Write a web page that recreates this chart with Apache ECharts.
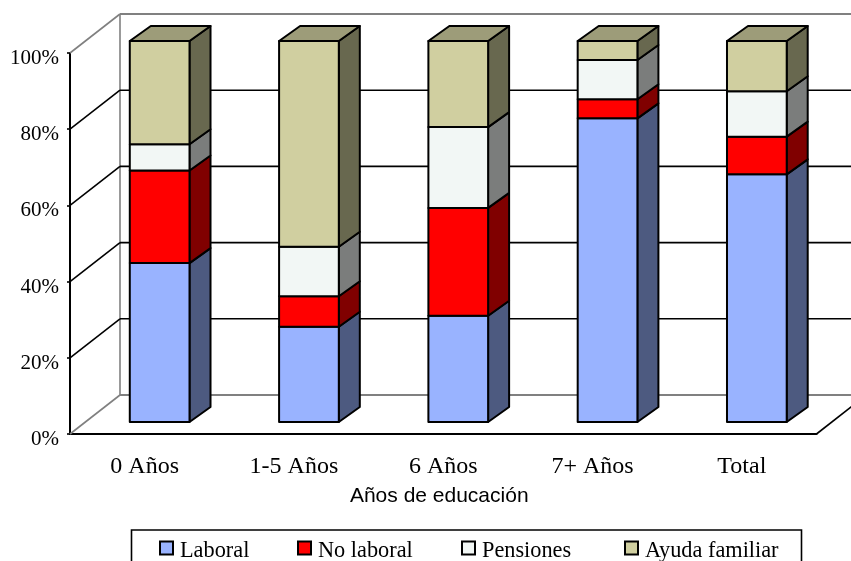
<!DOCTYPE html>
<html>
<head>
<meta charset="utf-8">
<style>html,body{margin:0;padding:0;background:#fff}#chart{width:851px;height:561px}</style>
<script src="https://cdn.jsdelivr.net/npm/echarts@6/dist/echarts.min.js"></script>
</head>
<body>
<div id="chart"></div>
<script>
// Composición del ingreso por años de educación (porcentajes apilados)
const categories = ['0 Años', '1-5 Años', '6 Años', '7+ Años', 'Total'];
const laboral   = [41.7, 25, 27.9, 79.7, 65];
const noLaboral = [24.3, 8, 28.3, 5, 9.9];
const pensiones = [6.9, 13, 21.2, 10.3, 11.9];
const ayuda     = [27.1, 54, 22.6, 5, 13.2];
const yTicks = [0, 20, 40, 60, 80, 100];
const serif = '"Liberation Serif", "Times New Roman", serif';

const stacks = [
  { name: 'Laboral', values: laboral, front: '#99B3FF', side: '#4D5A80' },
  { name: 'No laboral', values: noLaboral, front: '#FF0000', side: '#800000' },
  { name: 'Pensiones', values: pensiones, front: '#F2F7F5', side: '#7B7D7C' },
  { name: 'Ayuda familiar', values: ayuda, front: '#D0CFA0', side: '#68684F', top: '#9D9C79' }
];

// Proyección oblicua: fondo del gráfico y profundidad de cada columna
const WALL = { dx: 50, dy: -39 };
const BAR = { dx: 15, dy: -12, depthX: 21, depthY: -15, share: 0.4 };
const INK = { stroke: '#000', lineWidth: 2, lineJoin: 'round' };

function wallLine(p1, p2, color, width) {
  return {
    type: 'line',
    shape: { x1: p1[0], y1: p1[1], x2: p2[0], y2: p2[1] },
    style: { stroke: color, lineWidth: width, fill: null }
  };
}

function renderWall(params, api) {
  const sys = params.coordSys;
  const v = api.value(0);
  const y = api.coord([0, v])[1];
  const xLeft = sys.x, xRight = sys.x + sys.width;
  const edge = v === 0 || v === 100;
  const color = edge ? '#808080' : '#000';
  const children = [
    wallLine([xLeft, y], [xLeft + WALL.dx, y + WALL.dy], color, 1.6),
    wallLine([xLeft + WALL.dx, y + WALL.dy], [xRight + WALL.dx, y + WALL.dy], color, edge ? 2 : 1.6)
  ];
  if (v === 0) {
    const yTop = api.coord([0, 100])[1];
    children.push(wallLine([xLeft + WALL.dx, y + WALL.dy], [xLeft + WALL.dx, yTop + WALL.dy], '#808080', 1.6));
    children.push(wallLine([xRight, y], [xRight + WALL.dx, y + WALL.dy], '#000', 1.6));
  }
  return { type: 'group', children };
}

function renderSegment(stack) {
  return function (params, api) {
    const base = api.coord([api.value(0), api.value(1)]);
    const head = api.coord([api.value(0), api.value(2)]);
    const w = api.size([1, 0])[0] * BAR.share;
    const x0 = base[0] + BAR.dx - w / 2, x1 = x0 + w;
    const yb = base[1] + BAR.dy, yt = head[1] + BAR.dy;
    const dx = BAR.depthX, dy = BAR.depthY;
    const children = [
      { type: 'polygon', shape: { points: [[x1, yb], [x1 + dx, yb + dy], [x1 + dx, yt + dy], [x1, yt]] },
        style: Object.assign({ fill: stack.side }, INK) },
      { type: 'rect', shape: { x: x0, y: yt, width: w, height: yb - yt },
        style: Object.assign({ fill: stack.front }, INK) }
    ];
    if (stack.top) {
      children.push({ type: 'polygon',
        shape: { points: [[x0, yt], [x0 + dx, yt + dy], [x1 + dx, yt + dy], [x1, yt]] },
        style: Object.assign({ fill: stack.top }, INK) });
    }
    return { type: 'group', children };
  };
}

// Acumula los porcentajes para obtener el inicio y el fin de cada tramo
const running = categories.map(() => 0);
const barSeries = stacks.map(stack => ({
  type: 'custom',
  name: stack.name,
  coordinateSystem: 'cartesian2d',
  itemStyle: { color: stack.front, borderColor: '#000', borderWidth: 1.5 },
  encode: { x: 0, y: [1, 2] },
  z: 5,
  silent: true,
  renderItem: renderSegment(stack),
  data: stack.values.map((val, i) => {
    const start = running[i];
    running[i] += val;
    return [i, start, running[i]];
  })
}));

const legendLefts = [159, 297, 461, 624];
const legends = stacks.map((stack, i) => ({
  data: [stack.name],
  left: legendLefts[i],
  top: 540,
  padding: 0,
  itemWidth: 13,
  itemHeight: 13,
  selectedMode: false,
  icon: 'rect',
  formatter: '{t|{name}}',
  textStyle: {
    color: '#000',
    rich: { t: { fontFamily: serif, fontSize: 22.3, color: '#000', padding: [6, 0, 0, 2] } }
  }
}));

const chart = echarts.init(document.getElementById('chart'), null, { renderer: 'canvas' });
chart.setOption({
  animation: false,
  backgroundColor: '#fff',
  grid: { left: 70, right: 34.5, top: 53, bottom: 127, containLabel: false },
  legend: legends,
  xAxis: {
    type: 'category',
    data: categories,
    boundaryGap: true,
    axisLine: { lineStyle: { color: '#000', width: 2 } },
    axisTick: { alignWithLabel: false, length: 7, lineStyle: { color: '#000', width: 1.6 } },
    axisLabel: { color: '#000', fontFamily: serif, fontSize: 24, margin: 21 },
    name: 'Años de educación',
    nameLocation: 'middle',
    nameGap: 52,
    nameTextStyle: { color: '#000', fontFamily: '"Liberation Sans", Arial, sans-serif', fontSize: 21, padding: [0, 8, 0, 0] }
  },
  yAxis: {
    type: 'value',
    min: 0,
    max: 100,
    interval: 20,
    splitLine: { show: false },
    axisLine: { show: true, lineStyle: { color: '#000', width: 2 } },
    axisTick: { show: true, length: 3, lineStyle: { color: '#000', width: 1.6 } },
    axisLabel: { color: '#000', fontFamily: serif, fontSize: 21, margin: 11, verticalAlign: 'top', lineHeight: 11, formatter: '{value}%' }
  },
  graphic: [{
    type: 'polyline',
    silent: true,
    shape: { points: [[131.5, 561], [131.5, 530], [801.5, 530], [801.5, 561]] },
    style: { stroke: '#000', lineWidth: 1.6, fill: null }
  }],
  series: [{
    type: 'custom',
    name: 'Fondo',
    coordinateSystem: 'cartesian2d',
    silent: true,
    z: 1,
    encode: { y: 0 },
    renderItem: renderWall,
    data: yTicks.map(v => [v])
  }].concat(barSeries)
});
</script>
</body>
</html>
